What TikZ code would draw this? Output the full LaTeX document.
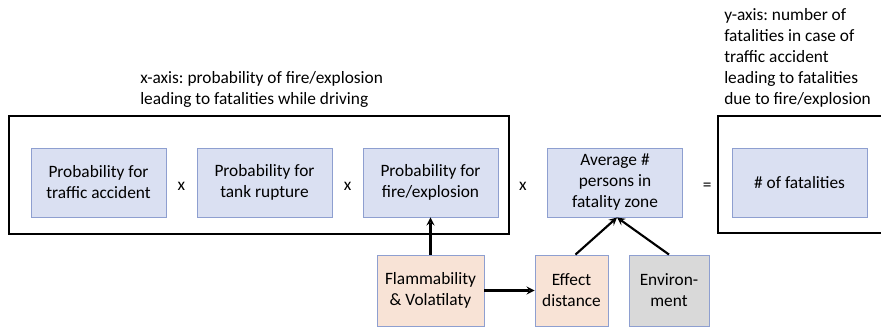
\documentclass[tikz,border=0pt]{standalone}
\usepackage{fontspec}
\setmainfont{Carlito}
\usetikzlibrary{calc}
\frenchspacing

\newcommand{\riskBlockWidth}{101.25pt}
\newcommand{\riskBlockHeight}{51.75pt}
\newcommand{\riskInputHeight}{53.25pt}
\definecolor{rfBlue}{HTML}{DAE0F2}
\definecolor{rfBlueLine}{HTML}{8E9FD0}
\definecolor{rfOrange}{HTML}{F8E3D6}
\definecolor{rfGrey}{HTML}{D9D9D9}
\tikzset{
  rf base/.style={font=\fontsize{13}{15.75}\selectfont, inner sep=2pt},
  rf arrow/.style={line width=1.6pt,->,>=stealth},
  rf frame/.style={draw, line width=1.4pt},
  rf factor/.style={draw=rfBlueLine, rectangle, fill=rfBlue, line width=0.7pt,
    minimum width=\riskBlockWidth, minimum height=\riskBlockHeight,
    align=center},
  rf input/.style={draw=rfBlueLine, rectangle, fill=rfOrange, line width=0.7pt,
    minimum height=\riskInputHeight, align=center},
  rf label/.style={align=left, inner sep=0pt, anchor=north west},
  rf op/.style={yshift=-3pt},
}

\begin{document}
\begin{tikzpicture}[
    x=0.75pt, y=-0.75pt,
    rf base,
    node distance=124.5pt
]
\useasboundingbox (0,0) rectangle (881,329);
\clip (0,0) rectangle (881,329);

% frames round the two axes
\draw [rf frame] (9,116) rectangle (509,234);
\draw [rf frame] (718,116) rectangle (895,233);

\node (traffic) [rf factor] at (98.5,182.5) {Probability for\\traffic accident};
\node (tank)    [rf factor, right of=traffic] {Probability for\\tank rupture};
\node (fire)    [rf factor, right of=tank] {Probability for\\fire/explosion};
\node (persons) [rf factor, right of=fire, node distance=138.4pt]
  {Average \#\\persons in\\fatality zone};
\node (deaths)  [rf factor, right of=persons, node distance=138.4pt] {\# of fatalities};

\node (flam)   [rf input, below of=fire, node distance=81pt, minimum width=80.25pt]
  {Flammability\\\& Volatilaty};
\node (effect) [rf input, right of=flam, node distance=105.75pt, minimum width=54.75pt]
  {Effect\\distance};
\node (env)    [rf input, right of=effect, node distance=73.1pt, minimum width=60pt,
  fill=rfGrey] {Environ-\\ment};

\node (op1) [rf op] at ($(traffic)!.5!(tank)$) {x};
\node (op2) [rf op] at ($(tank)!.5!(fire)$) {x};
\node (op3) [rf op] at ($(fire)!.5!(persons)$) {x};
\node (op4) [rf op] at ($(persons)!.5!(deaths)$) {=};

\node (xlabel) [rf label] at (140,71)
  {x-axis: probability of fire/explosion\\leading to fatalities while driving};
\node (ylabel) [rf label] at (724,8)
  {y-axis: number of\\fatalities in case of\\traffic accident\\leading to fatalities\\due to fire/explosion};

\draw [rf arrow] (flam) -- (fire);
\draw [rf arrow] (flam) -- (effect);
\draw [rf arrow] ([xshift=3pt]effect.north) -- ([xshift=1.5pt]persons.south);
\draw [rf arrow] (env.north) -- ([xshift=1.5pt]persons.south);
\end{tikzpicture}
\end{document}
